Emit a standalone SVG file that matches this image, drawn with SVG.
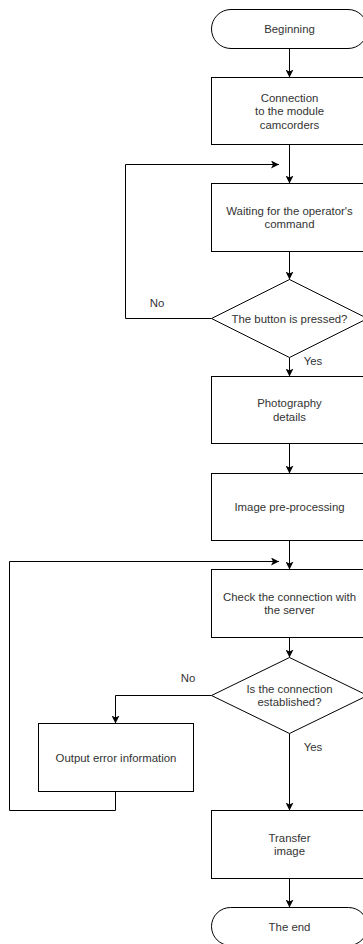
<svg xmlns="http://www.w3.org/2000/svg" width="363" height="944" viewBox="0 0 363 944">
<style>
.n{fill:#fff;stroke:#000;stroke-width:1}
.t{font-family:"Liberation Sans",Arial,sans-serif;font-size:11.4px;fill:#333;text-anchor:middle;dominant-baseline:central}
.c{fill:none;stroke:#000;stroke-width:1;marker-end:url(#ah)}
</style>
<defs>
<marker id="ah" viewBox="0 0 8 8" refX="8" refY="4" markerWidth="8" markerHeight="8" markerUnits="userSpaceOnUse" orient="auto">
<path d="M0,0 L8,4 L0,8 L2,4 z" fill="#000"/>
</marker>
</defs>
<rect width="363" height="944" fill="#fff"/>
<g id="connectors">
<path class="c" d="M289.5,48.5 V77.5"/>
<path class="c" d="M289.5,144.5 V183.5"/>
<path class="c" d="M289.5,251.5 V279.5"/>
<path class="c" d="M211.5,318.5 H125.5 V164.5 H279"/>
<path class="c" d="M289.5,357.5 V376.5"/>
<path class="c" d="M289.5,443.5 V473.5"/>
<path class="c" d="M289.5,540.5 V569.5"/>
<path class="c" d="M289.5,637.5 V657.5"/>
<path class="c" d="M211.5,695.5 H115.5 V723.5"/>
<path class="c" d="M115.5,791.5 V810.5 H9.5 V561.5 H279"/>
<path class="c" d="M289.5,733.5 V810.5"/>
<path class="c" d="M289.5,878.5 V907.5"/>
<text class="t" x="157" y="303">No</text>
<text class="t" x="313" y="361">Yes</text>
<text class="t" x="188" y="678">No</text>
<text class="t" x="313" y="747">Yes</text>
</g>
<g id="beginning">
<rect class="n" x="211.5" y="9.5" width="156" height="39" rx="19.5" ry="19.5"/>
<text class="t" x="289.5" y="29">Beginning</text>
</g>
<g id="connect-module">
<rect class="n" x="211.5" y="77.5" width="156" height="67"/>
<text class="t" x="289.5" y="97.5">Connection</text>
<text class="t" x="289.5" y="111.2">to the module</text>
<text class="t" x="289.5" y="124.9">camcorders</text>
</g>
<g id="waiting">
<rect class="n" x="211.5" y="183.5" width="156" height="68"/>
<text class="t" x="289.5" y="210.7">Waiting for the operator's</text>
<text class="t" x="289.5" y="224.3">command</text>
</g>
<g id="button-pressed">
<path class="n" d="M289.5,279.5 L367.5,318.5 L289.5,357.5 L211.5,318.5 Z"/>
<text class="t" x="289.5" y="318.5">The button is pressed?</text>
</g>
<g id="photography">
<rect class="n" x="211.5" y="376.5" width="156" height="67"/>
<text class="t" x="289.5" y="403.2">Photography</text>
<text class="t" x="289.5" y="416.8">details</text>
</g>
<g id="preprocessing">
<rect class="n" x="211.5" y="473.5" width="156" height="67"/>
<text class="t" x="289.5" y="507">Image pre-processing</text>
</g>
<g id="check-connection">
<rect class="n" x="211.5" y="569.5" width="156" height="68"/>
<text class="t" x="289.5" y="596.7">Check the connection with</text>
<text class="t" x="289.5" y="610.3">the server</text>
</g>
<g id="connection-established">
<path class="n" d="M289.5,657.5 L367.5,695.5 L289.5,733.5 L211.5,695.5 Z"/>
<text class="t" x="289.5" y="688.5">Is the connection</text>
<text class="t" x="289.5" y="702">established?</text>
</g>
<g id="error-output">
<rect class="n" x="38.5" y="723.5" width="155" height="68"/>
<text class="t" x="116" y="757.5">Output error information</text>
</g>
<g id="transfer">
<rect class="n" x="211.5" y="810.5" width="156" height="68"/>
<text class="t" x="289.5" y="837.7">Transfer</text>
<text class="t" x="289.5" y="851.3">image</text>
</g>
<g id="end">
<rect class="n" x="211.5" y="907.5" width="156" height="38" rx="19" ry="19"/>
<text class="t" x="289.5" y="926.5">The end</text>
</g>
</svg>
